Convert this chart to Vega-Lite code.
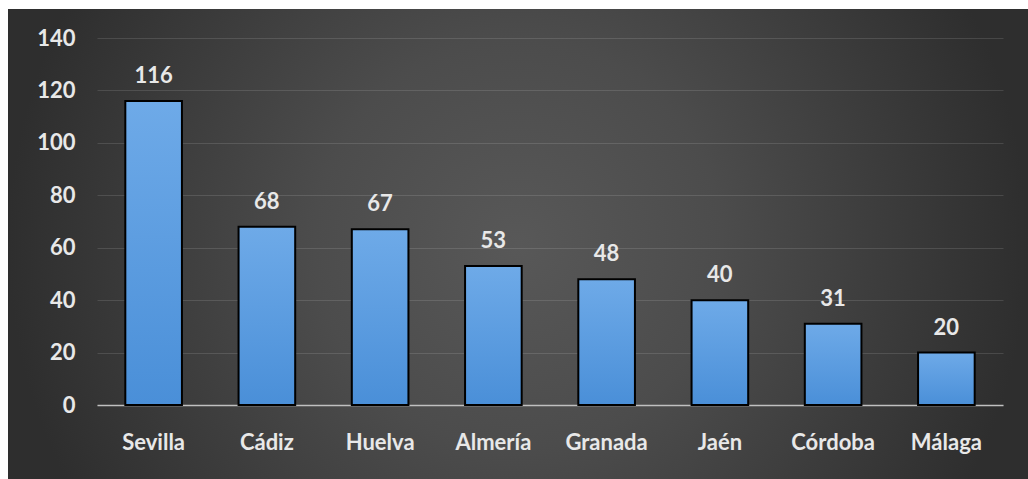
{
  "$schema": "https://vega.github.io/schema/vega-lite/v6.json",
  "width": 1020,
  "height": 470,
  "autosize": {"type": "none"},
  "padding": {"left": 8, "top": 9, "right": 0, "bottom": 0},
  "background": "#ffffff",
  "config": {
    "view": {
      "stroke": null,
      "fill": {
        "gradient": "radial",
        "x1": 0.5, "y1": 0.5, "r1": 0,
        "x2": 0.5, "y2": 0.5, "r2": 0.5,
        "stops": [
          {"offset": 0, "color": "#585858"},
          {"offset": 0.4, "color": "#4c4c4c"},
          {"offset": 1, "color": "#2e2e2e"}
        ]
      }
    }
  },
  "data": {
    "values": [
      {"provincia": "Sevilla", "valor": 116},
      {"provincia": "Cádiz", "valor": 68},
      {"provincia": "Huelva", "valor": 67},
      {"provincia": "Almería", "valor": 53},
      {"provincia": "Granada", "valor": 48},
      {"provincia": "Jaén", "valor": 40},
      {"provincia": "Córdoba", "valor": 31},
      {"provincia": "Málaga", "valor": 20}
    ]
  },
  "encoding": {
    "x": {
      "field": "provincia",
      "type": "nominal",
      "sort": null,
      "scale": {"range": [89, 995], "paddingInner": 0.5, "paddingOuter": 0.25},
      "axis": {
        "title": null,
        "orient": "bottom",
        "offset": -74,
        "labelAngle": 0,
        "ticks": false,
        "domain": true,
        "domainColor": "#c0c0c0",
        "domainWidth": 1.5,
        "labelPadding": 27,
        "labelFont": "Lato",
        "labelFontWeight": "bold",
        "labelFontSize": 22,
        "labelColor": "#e8e8e8"
      }
    },
    "y": {
      "field": "valor",
      "type": "quantitative",
      "scale": {"domain": [0, 140], "range": [396, 29], "nice": false, "zero": true},
      "axis": {
        "title": null,
        "orient": "left",
        "offset": -70,
        "values": [0, 20, 40, 60, 80, 100, 120, 140],
        "ticks": false,
        "domain": false,
        "grid": true,
        "gridColor": "#ffffff",
        "gridOpacity": 0.12,
        "gridWidth": 1,
        "labelPadding": 3,
        "labelFont": "Lato",
        "labelFontWeight": "bold",
        "labelFontSize": 22,
        "labelColor": "#e8e8e8"
      }
    }
  },
  "layer": [
    {
      "mark": {
        "type": "bar",
        "stroke": "#000000",
        "strokeWidth": 2,
        "fill": {
          "gradient": "linear",
          "x1": 0, "y1": 0, "x2": 0, "y2": 1,
          "stops": [
            {"offset": 0, "color": "#6eaae8"},
            {"offset": 1, "color": "#4a8fd8"}
          ]
        }
      }
    },
    {
      "mark": {
        "type": "text",
        "dy": -18,
        "baseline": "alphabetic",
        "font": "Lato",
        "fontWeight": "bold",
        "fontSize": 22,
        "color": "#e8e8e8"
      },
      "encoding": {"text": {"field": "valor", "type": "quantitative"}}
    }
  ]
}
